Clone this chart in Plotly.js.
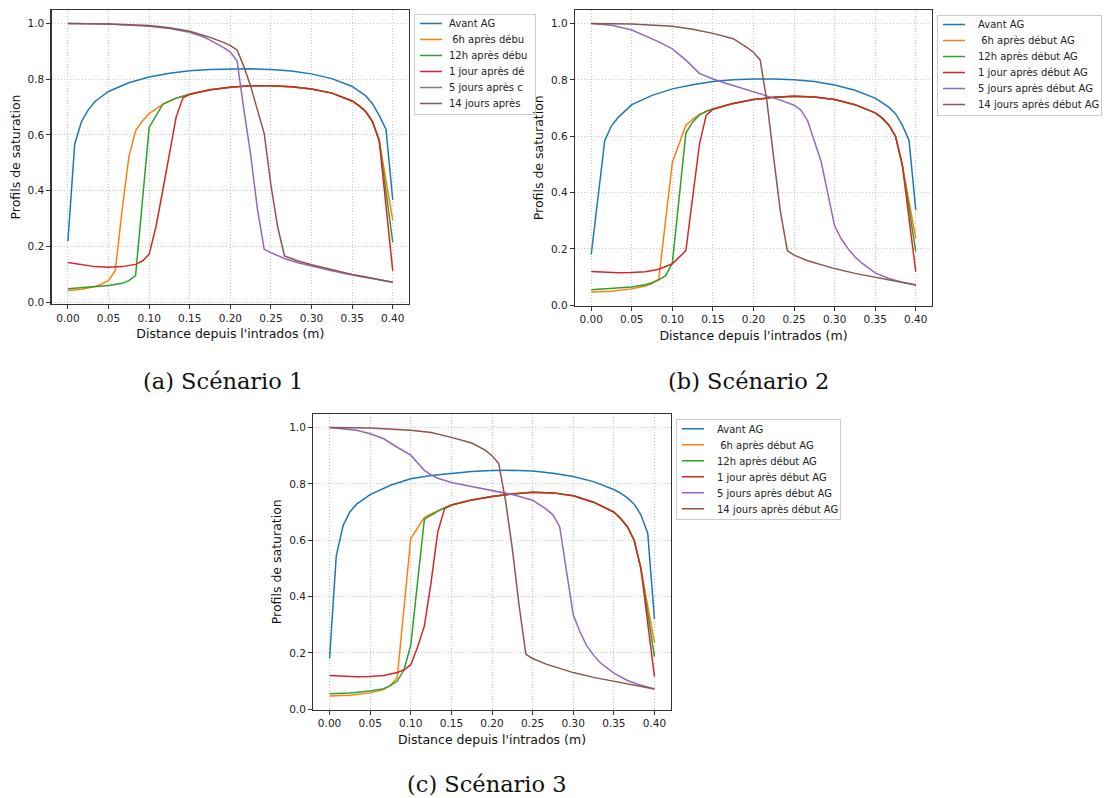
<!DOCTYPE html>
<html>
<head>
<meta charset="utf-8">
<script src="https://cdn.plot.ly/plotly-3.0.1.min.js"></script>
<style>html,body{margin:0;padding:0;background:#fff;}#chart{width:1108px;height:798px;}</style>
</head>
<body>
<div id="chart"></div>
<script>
// ---------- Series names ----------
const seriesNames = ["Avant AG", "\u00a06h après début AG", "12h après début AG", "1 jour après début AG", "5 jours après début AG", "14 jours après début AG"];
// legend of panel (a) is cut by the figure edge in the original
const seriesNamesCut = ["Avant AG", "\u00a06h après débu", "12h après débu", "1 jour après dé", "5 jours après c", "14 jours après"];
const captions = ["(a) Scénario 1", "(b) Scénario 2", "(c) Scénario 3"];
const xTitle = "Distance depuis l'intrados (m)";
const yTitle = "Profils de saturation";
const colors = ["#1f77b4", "#ff7f0e", "#2ca02c", "#d62728", "#9467bd", "#8c564b"];

// ---------- Scénario 1 ----------
const s1_avant_x = [0, 0.0083, 0.0167, 0.025, 0.0333, 0.05, 0.075, 0.1, 0.125, 0.15, 0.175, 0.2, 0.225, 0.25, 0.275, 0.3, 0.325, 0.35, 0.3583, 0.3667, 0.375, 0.3833, 0.3917, 0.4];
const s1_avant_y = [0.22, 0.567, 0.648, 0.69, 0.72, 0.756, 0.787, 0.808, 0.821, 0.83, 0.835, 0.837, 0.837, 0.835, 0.829, 0.819, 0.802, 0.774, 0.758, 0.74, 0.712, 0.67, 0.62, 0.367];
const s1_6h_x = [0, 0.0167, 0.0333, 0.0417, 0.05, 0.0583, 0.0667, 0.075, 0.0833, 0.0917, 0.1, 0.1083, 0.1167, 0.125, 0.1333, 0.15, 0.175, 0.2, 0.225, 0.25, 0.275, 0.3, 0.325, 0.35, 0.3583, 0.3667, 0.375, 0.3833, 0.4];
const s1_6h_y = [0.042, 0.047, 0.057, 0.066, 0.078, 0.114, 0.33, 0.52, 0.615, 0.65, 0.677, 0.695, 0.71, 0.722, 0.732, 0.746, 0.762, 0.771, 0.776, 0.776, 0.773, 0.765, 0.75, 0.722, 0.705, 0.684, 0.648, 0.58, 0.295];
const s1_12h_x = [0, 0.025, 0.05, 0.0667, 0.075, 0.0833, 0.1, 0.1167, 0.125, 0.1333, 0.15, 0.175, 0.2, 0.225, 0.25, 0.275, 0.3, 0.325, 0.35, 0.3583, 0.3667, 0.375, 0.3833, 0.4];
const s1_12h_y = [0.049, 0.054, 0.06, 0.068, 0.078, 0.096, 0.627, 0.71, 0.722, 0.732, 0.746, 0.762, 0.771, 0.776, 0.776, 0.773, 0.765, 0.75, 0.722, 0.705, 0.684, 0.648, 0.58, 0.215];
const s1_1j_x = [0, 0.0167, 0.0333, 0.05, 0.0667, 0.0833, 0.0917, 0.1, 0.1083, 0.1167, 0.125, 0.1333, 0.1417, 0.15, 0.175, 0.2, 0.225, 0.25, 0.275, 0.3, 0.325, 0.35, 0.3583, 0.3667, 0.375, 0.3833, 0.4];
const s1_1j_y = [0.143, 0.135, 0.128, 0.126, 0.128, 0.136, 0.148, 0.172, 0.27, 0.4, 0.53, 0.665, 0.733, 0.746, 0.762, 0.771, 0.776, 0.776, 0.773, 0.765, 0.75, 0.722, 0.705, 0.684, 0.648, 0.58, 0.113];
const s1_5j_x = [0, 0.05, 0.1, 0.125, 0.15, 0.1667, 0.175, 0.1833, 0.1917, 0.2, 0.2083, 0.2167, 0.225, 0.2333, 0.2417, 0.25, 0.2667, 0.2833, 0.3, 0.325, 0.35, 0.375, 0.4];
const s1_5j_y = [1.0, 0.998, 0.99, 0.982, 0.968, 0.952, 0.94, 0.927, 0.913, 0.897, 0.865, 0.69, 0.53, 0.335, 0.19, 0.178, 0.157, 0.142, 0.13, 0.113, 0.098, 0.085, 0.072];
const s1_14j_x = [0, 0.05, 0.1, 0.125, 0.15, 0.175, 0.1917, 0.2, 0.2083, 0.2167, 0.225, 0.2333, 0.2417, 0.25, 0.2583, 0.2667, 0.2833, 0.3, 0.325, 0.35, 0.375, 0.4];
const s1_14j_y = [1.0, 0.998, 0.992, 0.984, 0.972, 0.95, 0.932, 0.92, 0.905, 0.845, 0.775, 0.695, 0.605, 0.42, 0.27, 0.166, 0.148, 0.135, 0.117, 0.1, 0.086, 0.072];

// ---------- Scénario 2 ----------
const s2_avant_x = [0, 0.0167, 0.025, 0.0333, 0.05, 0.075, 0.1, 0.125, 0.15, 0.175, 0.2, 0.225, 0.25, 0.275, 0.3, 0.325, 0.35, 0.3583, 0.3667, 0.375, 0.3833, 0.3917, 0.4];
const s2_avant_y = [0.18, 0.585, 0.637, 0.667, 0.712, 0.745, 0.768, 0.783, 0.794, 0.8, 0.803, 0.803, 0.8, 0.794, 0.782, 0.763, 0.735, 0.72, 0.703, 0.68, 0.64, 0.585, 0.338];
const s2_6h_x = [0, 0.025, 0.05, 0.0667, 0.075, 0.0833, 0.1, 0.1167, 0.125, 0.1333, 0.1417, 0.15, 0.1667, 0.175, 0.2, 0.225, 0.25, 0.275, 0.3, 0.325, 0.35, 0.3583, 0.3667, 0.375, 0.3833, 0.4];
const s2_6h_y = [0.047, 0.05, 0.058, 0.068, 0.077, 0.094, 0.507, 0.639, 0.66, 0.677, 0.688, 0.697, 0.71, 0.716, 0.73, 0.738, 0.742, 0.739, 0.73, 0.712, 0.683, 0.665, 0.64, 0.6, 0.5, 0.238];
const s2_12h_x = [0, 0.025, 0.05, 0.0667, 0.075, 0.0833, 0.0917, 0.1, 0.1167, 0.125, 0.1333, 0.1417, 0.15, 0.1667, 0.175, 0.2, 0.225, 0.25, 0.275, 0.3, 0.325, 0.35, 0.3583, 0.3667, 0.375, 0.3833, 0.4];
const s2_12h_y = [0.055, 0.059, 0.065, 0.073, 0.08, 0.09, 0.105, 0.15, 0.612, 0.65, 0.675, 0.688, 0.697, 0.71, 0.716, 0.73, 0.738, 0.742, 0.739, 0.73, 0.712, 0.683, 0.665, 0.64, 0.6, 0.5, 0.19];
const s2_1j_x = [0, 0.0167, 0.0333, 0.05, 0.0667, 0.0833, 0.1, 0.1167, 0.125, 0.1333, 0.1417, 0.15, 0.1667, 0.175, 0.2, 0.225, 0.25, 0.275, 0.3, 0.325, 0.35, 0.3583, 0.3667, 0.375, 0.3833, 0.4];
const s2_1j_y = [0.12, 0.117, 0.115, 0.116, 0.119, 0.128, 0.147, 0.194, 0.38, 0.57, 0.675, 0.695, 0.71, 0.716, 0.73, 0.738, 0.742, 0.739, 0.73, 0.712, 0.683, 0.665, 0.64, 0.6, 0.5, 0.119];
const s2_5j_x = [0, 0.025, 0.05, 0.0667, 0.0833, 0.1, 0.1167, 0.1333, 0.15, 0.1667, 0.1833, 0.2, 0.2167, 0.2333, 0.25, 0.2583, 0.2667, 0.275, 0.2833, 0.2917, 0.3, 0.3083, 0.3167, 0.325, 0.3333, 0.35, 0.3667, 0.3833, 0.4];
const s2_5j_y = [1.0, 0.994, 0.977, 0.955, 0.935, 0.91, 0.87, 0.823, 0.803, 0.787, 0.772, 0.758, 0.742, 0.728, 0.71, 0.693, 0.655, 0.585, 0.51, 0.395, 0.281, 0.235, 0.2, 0.172, 0.15, 0.115, 0.095, 0.082, 0.072];
const s2_14j_x = [0, 0.05, 0.1, 0.125, 0.15, 0.175, 0.1917, 0.2, 0.2083, 0.2167, 0.225, 0.2333, 0.2417, 0.25, 0.2667, 0.2833, 0.3, 0.325, 0.35, 0.375, 0.4];
const s2_14j_y = [1.0, 0.998, 0.99, 0.98, 0.965, 0.946, 0.915, 0.898, 0.87, 0.72, 0.52, 0.33, 0.194, 0.178, 0.158, 0.143, 0.13, 0.113, 0.099, 0.086, 0.072];

// ---------- Scénario 3 ----------
const s3_avant_x = [0, 0.0083, 0.0167, 0.025, 0.0333, 0.05, 0.075, 0.1, 0.125, 0.15, 0.175, 0.2, 0.225, 0.25, 0.275, 0.3, 0.325, 0.35, 0.3583, 0.3667, 0.375, 0.3833, 0.3917, 0.4];
const s3_avant_y = [0.18, 0.545, 0.652, 0.7, 0.728, 0.762, 0.795, 0.818, 0.83, 0.838, 0.844, 0.847, 0.848, 0.846, 0.838, 0.826, 0.808, 0.78, 0.767, 0.75, 0.728, 0.69, 0.625, 0.32];
const s3_6h_x = [0, 0.025, 0.05, 0.0667, 0.075, 0.0833, 0.1, 0.1167, 0.125, 0.1333, 0.1417, 0.15, 0.1667, 0.175, 0.2, 0.225, 0.25, 0.275, 0.3, 0.325, 0.35, 0.3583, 0.3667, 0.375, 0.3833, 0.4];
const s3_6h_y = [0.047, 0.05, 0.058, 0.07, 0.085, 0.112, 0.607, 0.68, 0.693, 0.705, 0.715, 0.725, 0.737, 0.743, 0.755, 0.764, 0.77, 0.768, 0.758, 0.735, 0.7, 0.677, 0.648, 0.6, 0.5, 0.236];
const s3_12h_x = [0, 0.025, 0.05, 0.0667, 0.075, 0.0833, 0.0917, 0.1, 0.1167, 0.125, 0.1333, 0.1417, 0.15, 0.1667, 0.175, 0.2, 0.225, 0.25, 0.275, 0.3, 0.325, 0.35, 0.3583, 0.3667, 0.375, 0.3833, 0.4];
const s3_12h_y = [0.055, 0.058, 0.065, 0.073, 0.084, 0.1, 0.14, 0.228, 0.674, 0.69, 0.703, 0.715, 0.725, 0.737, 0.743, 0.755, 0.764, 0.77, 0.768, 0.758, 0.735, 0.7, 0.677, 0.648, 0.6, 0.5, 0.187];
const s3_1j_x = [0, 0.0167, 0.0333, 0.05, 0.0667, 0.0833, 0.0917, 0.1, 0.1083, 0.1167, 0.125, 0.1333, 0.1417, 0.15, 0.1667, 0.175, 0.2, 0.225, 0.25, 0.275, 0.3, 0.325, 0.35, 0.3583, 0.3667, 0.375, 0.3833, 0.4];
const s3_1j_y = [0.12, 0.117, 0.115, 0.116, 0.12, 0.13, 0.14, 0.158, 0.22, 0.295, 0.45, 0.63, 0.712, 0.725, 0.737, 0.743, 0.755, 0.764, 0.77, 0.768, 0.758, 0.735, 0.7, 0.677, 0.648, 0.6, 0.5, 0.116];
const s3_5j_x = [0, 0.0167, 0.0333, 0.05, 0.0667, 0.0833, 0.1, 0.1083, 0.1167, 0.125, 0.1333, 0.15, 0.1667, 0.1833, 0.2, 0.225, 0.25, 0.2583, 0.2667, 0.275, 0.2833, 0.2917, 0.3, 0.3083, 0.3167, 0.325, 0.3333, 0.35, 0.3667, 0.3833, 0.4];
const s3_5j_y = [1.0, 0.996, 0.99, 0.978, 0.96, 0.93, 0.902, 0.875, 0.848, 0.832, 0.82, 0.805, 0.795, 0.785, 0.776, 0.762, 0.742, 0.727, 0.71, 0.69, 0.648, 0.49, 0.335, 0.275, 0.225, 0.192, 0.165, 0.128, 0.102, 0.085, 0.072];
const s3_14j_x = [0, 0.05, 0.1, 0.125, 0.15, 0.175, 0.1917, 0.2, 0.2083, 0.2167, 0.225, 0.2333, 0.2417, 0.25, 0.2667, 0.2833, 0.3, 0.325, 0.35, 0.375, 0.4];
const s3_14j_y = [1.0, 0.998, 0.99, 0.982, 0.965, 0.945, 0.92, 0.9, 0.872, 0.74, 0.57, 0.37, 0.195, 0.18, 0.16, 0.145, 0.13, 0.113, 0.1, 0.086, 0.072];

// ---------- Tick labels ----------
const xTickVals = [0, 0.05, 0.1, 0.15, 0.2, 0.25, 0.3, 0.35, 0.4];
const xTickText = ["0.00", "0.05", "0.10", "0.15", "0.20", "0.25", "0.30", "0.35", "0.40"];
const yTickVals = [0, 0.2, 0.4, 0.6, 0.8, 1.0];
const yTickText = ["0.0", "0.2", "0.4", "0.6", "0.8", "1.0"];

const panels = [
  {xs: [s1_avant_x, s1_6h_x, s1_12h_x, s1_1j_x, s1_5j_x, s1_14j_x], ys: [s1_avant_y, s1_6h_y, s1_12h_y, s1_1j_y, s1_5j_y, s1_14j_y], names: seriesNamesCut, xa: 'x', ya: 'y', lg: 'legend'},
  {xs: [s2_avant_x, s2_6h_x, s2_12h_x, s2_1j_x, s2_5j_x, s2_14j_x], ys: [s2_avant_y, s2_6h_y, s2_12h_y, s2_1j_y, s2_5j_y, s2_14j_y], names: seriesNames, xa: 'x2', ya: 'y2', lg: 'legend2'},
  {xs: [s3_avant_x, s3_6h_x, s3_12h_x, s3_1j_x, s3_5j_x, s3_14j_x], ys: [s3_avant_y, s3_6h_y, s3_12h_y, s3_1j_y, s3_5j_y, s3_14j_y], names: seriesNames, xa: 'x3', ya: 'y3', lg: 'legend3'}
];

const traces = [];
panels.forEach(p => {
  for (let i = 0; i < 6; i++) {
    traces.push({
      type: 'scatter', mode: 'lines',
      x: p.xs[i], y: p.ys[i], name: p.names[i],
      xaxis: p.xa, yaxis: p.ya, legend: p.lg,
      line: {color: colors[i], width: 1.5}
    });
  }
});

const W = 1108, H = 798;
function xAxis(d0, d1, anchor) {
  return {
    domain: [d0 / W, d1 / W], anchor: anchor, range: [-0.02, 0.42],
    tickvals: xTickVals, ticktext: xTickText,
    showline: true, mirror: true, linecolor: '#333', linewidth: 1.3,
    ticks: 'outside', ticklen: 4, tickwidth: 1, tickcolor: '#333',
    showgrid: true, gridcolor: '#c8c8c8', griddash: '1px,2px', gridwidth: 1, zeroline: false,
    tickfont: {family: 'DejaVu Sans', size: 10.5, color: '#222'},
    title: {text: xTitle, font: {family: 'DejaVu Sans', size: 12.5, color: '#111'}, standoff: 6},
    automargin: false, fixedrange: true
  };
}
function yAxis(top, bottom, anchor, r0) {
  return {
    domain: [(H - bottom) / H, (H - top) / H], anchor: anchor, range: [r0, 1.048],
    tickvals: yTickVals, ticktext: yTickText,
    showline: true, mirror: true, linecolor: '#333', linewidth: 1.3,
    ticks: 'outside', ticklen: 4, tickwidth: 1, tickcolor: '#333',
    showgrid: true, gridcolor: '#c8c8c8', griddash: '1px,2px', gridwidth: 1, zeroline: false,
    tickfont: {family: 'DejaVu Sans', size: 10.5, color: '#222'},
    title: {text: yTitle, font: {family: 'DejaVu Sans', size: 12.5, color: '#111'}, standoff: 4},
    automargin: false, fixedrange: true
  };
}
function legendAt(px, py) {
  return {
    x: px / W, y: 1 - py / H, xanchor: 'left', yanchor: 'top',
    bgcolor: 'rgba(255,255,255,0.85)', bordercolor: '#cccccc', borderwidth: 1,
    font: {family: 'DejaVu Sans', size: 10, color: '#222'},
    tracegroupgap: 0, itemwidth: 30
  };
}

const layout = {
  width: W, height: H,
  margin: {l: 0, r: 0, t: 0, b: 0},
  paper_bgcolor: '#ffffff', plot_bgcolor: '#ffffff',
  showlegend: true,
  xaxis: xAxis(51.7, 409, 'y'),
  yaxis: yAxis(10, 304, 'x', -0.006),
  xaxis2: xAxis(575, 932, 'y2'),
  yaxis2: yAxis(10, 305.5, 'x2', -0.001),
  xaxis3: xAxis(313.3, 670.7, 'y3'),
  yaxis3: yAxis(414, 709.5, 'x3', -0.001),
  legend: legendAt(414, 14),
  legend2: legendAt(937, 15),
  legend3: legendAt(676, 419.3),
  annotations: [
    {text: captions[0], x: 223 / W, y: 1 - 381 / H},
    {text: captions[1], x: 748 / W, y: 1 - 381 / H},
    {text: captions[2], x: 487 / W, y: 1 - 784 / H}
  ].map(a => Object.assign(a, {xref: 'paper', yref: 'paper', showarrow: false, xanchor: 'center', yanchor: 'middle',
    font: {family: 'DejaVu Serif', size: 22.5, color: '#111'}}))
};

// Match the original legend geometry: 16 px rows, 22 px line samples
// (Plotly enforces a 19 px row minimum and 30 px samples)
function compactLegends(gd) {
  const ROW = 16, SHIFT_UP = 6, TEXT_SHIFT = 6;
  gd.querySelectorAll('g.infolayer > g').forEach(lg => {
    const cls = lg.getAttribute('class') || '';
    if (!/^legend\d*$/.test(cls)) return;
    const items = Array.from(lg.querySelectorAll('g.traces'));
    if (items.length < 2) return;
    const parse = el => {
      const m = /translate\(\s*([-\d.]+)[ ,]+([-\d.]+)\s*\)/.exec(el.getAttribute('transform') || '');
      return m ? [parseFloat(m[1]), parseFloat(m[2])] : [0, 0];
    };
    const pos = items.map(parse);
    const y0 = pos[0][1];
    const oldLast = pos[pos.length - 1][1];
    items.forEach((el, i) => {
      el.setAttribute('transform', 'translate(' + pos[i][0] + ',' + (y0 - SHIFT_UP + ROW * i) + ')');
      el.querySelectorAll('path.js-line').forEach(p => p.setAttribute('d', 'M5,0h22'));
      const t = el.querySelector('text.legendtext');
      if (t) {
        const x = parseFloat(t.getAttribute('x') || '40');
        t.setAttribute('x', x - TEXT_SHIFT);
        t.querySelectorAll('tspan[x]').forEach(ts => ts.setAttribute('x', parseFloat(ts.getAttribute('x')) - TEXT_SHIFT));
      }
    });
    const newLast = y0 - SHIFT_UP + ROW * (items.length - 1);
    const bg = lg.querySelector('rect.bg');
    if (bg) {
      const h = parseFloat(bg.getAttribute('height'));
      bg.setAttribute('height', h - (oldLast - newLast) - 4);
      const w = parseFloat(bg.getAttribute('width'));
      bg.setAttribute('width', w - TEXT_SHIFT + 2);
    }
  });
}

Plotly.newPlot('chart', traces, layout, {staticPlot: true, displayModeBar: false})
  .then(gd => compactLegends(gd));
</script>
</body>
</html>
